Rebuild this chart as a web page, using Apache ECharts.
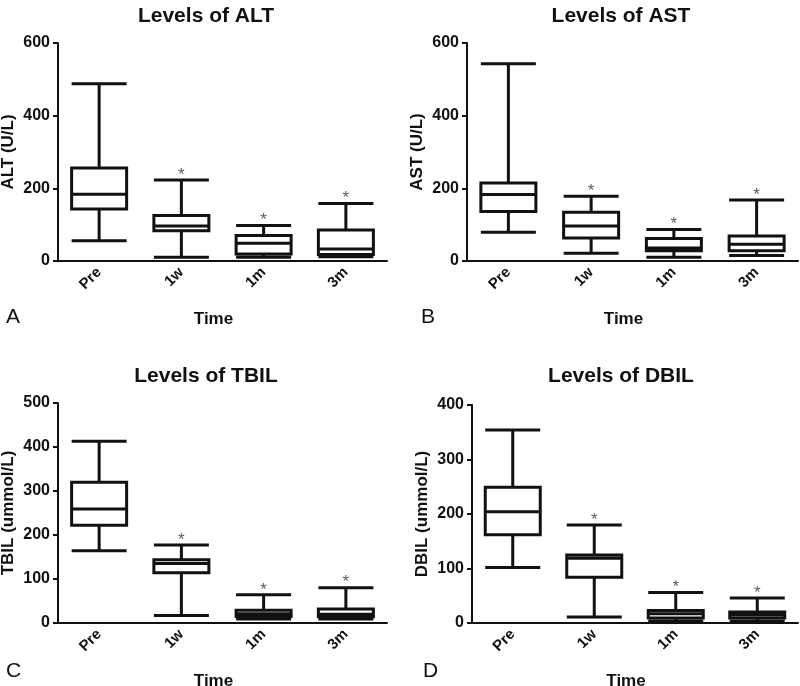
<!DOCTYPE html>
<html>
<head>
<meta charset="utf-8">
<script src="https://cdn.jsdelivr.net/npm/echarts@6/dist/echarts.min.js"></script>
<style>
  html, body { margin: 0; padding: 0; background: #fff; }
  #main { width: 800px; height: 686px; }
</style>
</head>
<body>
<div id="main"></div>
<script>
// categories (time points)
var times = ['Pre', '1w', '1m', '3m'];

// box values: [min, Q1, median, Q3, max]
var altBoxes = [[56, 143, 184, 256, 488], [10, 83, 96, 125, 223], [10, 19, 49, 70, 98], [12, 18, 33, 85, 158]];
var astBoxes = [[79, 136, 183, 215, 543], [21, 63, 96, 134, 178], [10, 28, 36, 62, 87], [15, 28, 46, 69, 168]];
var tbilBoxes = [[164, 222, 259, 320, 413], [17, 114, 135, 144, 177], [9, 15, 21, 29, 64], [9, 14, 20, 32, 80]];
var dbilBoxes = [[102, 162, 204, 249, 354], [11, 84, 119, 125, 180], [3, 9, 17, 23, 56], [3, 9, 15, 20, 46]];

// which groups carry a significance star
var starred = [false, true, true, true];

var yMax = [600, 600, 500, 400];
var yStep = [200, 200, 100, 100];
var titles = ['Levels of ALT', 'Levels of AST', 'Levels of TBIL', 'Levels of DBIL'];
var yNames = ['ALT (U/L)', 'AST (U/L)', 'TBIL (ummol/L)', 'DBIL (ummol/L)'];
var letters = ['A', 'B', 'C', 'D'];
var allBoxes = [altBoxes, astBoxes, tbilBoxes, dbilBoxes];

var font = 'Liberation Sans, Arial, sans-serif';
var ink = '#111';

var grids = [
  { left: 58, top: 43, width: 329, height: 218, outerBoundsMode: 'none' },
  { left: 467, top: 43, width: 331, height: 218, outerBoundsMode: 'none' },
  { left: 58, top: 403, width: 329, height: 220, outerBoundsMode: 'none' },
  { left: 472, top: 405, width: 326, height: 218, outerBoundsMode: 'none' }
];

var titleItems = [], xAxes = [], yAxes = [], series = [];

var titlePos = [[201, 1], [616, 1], [201, 361], [616, 361]];
var letterPos = [[1, 302], [416, 302], [1, 656], [418, 656]];

for (var i = 0; i < 4; i++) {
  titleItems.push({
    text: titles[i], left: titlePos[i][0], top: titlePos[i][1], textAlign: 'center',
    textStyle: { fontFamily: font, fontSize: 21, fontWeight: 'bold', color: ink }
  });
  titleItems.push({
    text: letters[i], left: letterPos[i][0], top: letterPos[i][1],
    textStyle: { fontFamily: font, fontSize: 21, fontWeight: 'normal', color: ink }
  });

  xAxes.push({
    type: 'category', gridIndex: i, data: times,
    name: 'Time', nameLocation: 'middle', nameGap: 50,
    nameTextStyle: { fontFamily: font, fontSize: 17, fontWeight: 'bold', color: ink, padding: [0, 18, 0, 0] },
    axisLine: { lineStyle: { color: ink, width: 2 } },
    axisTick: { alignWithLabel: true, length: 5, lineStyle: { color: ink, width: 2 } },
    axisLabel: { rotate: 45, margin: 9, fontFamily: font, fontSize: 15, fontWeight: 'bold', color: ink },
    splitLine: { show: false }
  });

  yAxes.push({
    type: 'value', gridIndex: i, min: 0, max: yMax[i], interval: yStep[i],
    name: yNames[i], nameLocation: 'middle', nameGap: 41,
    nameTextStyle: { fontFamily: font, fontSize: 17, fontWeight: 'bold', color: ink },
    axisLine: { show: true, lineStyle: { color: ink, width: 2 } },
    axisTick: { show: true, length: 5, lineStyle: { color: ink, width: 2 } },
    axisLabel: { margin: 8, fontFamily: font, fontSize: 16, fontWeight: 'bold', color: ink },
    splitLine: { show: false }
  });

  series.push({
    type: 'boxplot', xAxisIndex: i, yAxisIndex: i,
    data: allBoxes[i],
    boxWidth: [55, 55],
    itemStyle: { color: '#fff', borderColor: ink, borderWidth: 3 },
    emphasis: { disabled: true },
    silent: true
  });

  var stars = [];
  for (var j = 0; j < times.length; j++) {
    if (starred[j]) stars.push([j, allBoxes[i][j][4]]);
  }
  series.push({
    type: 'scatter', xAxisIndex: i, yAxisIndex: i,
    data: stars, symbolSize: 1,
    itemStyle: { color: 'rgba(0,0,0,0)' },
    label: {
      show: true, position: 'top', distance: -4, formatter: '*',
      fontFamily: font, fontSize: 17, color: '#333'
    },
    silent: true
  });
}

var chart = echarts.init(document.getElementById('main'));
chart.setOption({
  animation: false,
  backgroundColor: '#fff',
  title: titleItems,
  grid: grids,
  xAxis: xAxes,
  yAxis: yAxes,
  series: series
});
</script>
</body>
</html>
